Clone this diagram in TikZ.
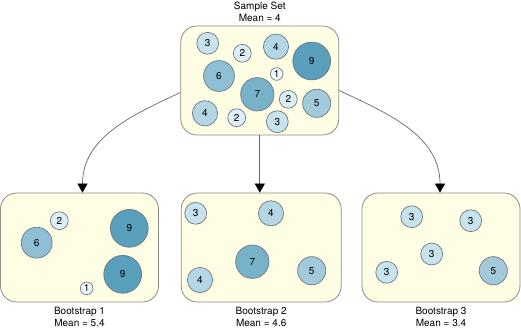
\documentclass[tikz,border=0pt]{standalone}
\usepackage{fontspec}
\setmainfont{TeX Gyre Heros}
\usetikzlibrary{arrows.meta,positioning}

\definecolor{poolfill}{HTML}{FFFDE3}
\definecolor{pooldraw}{HTML}{8C8C84}
\definecolor{balldraw}{HTML}{6A7A84}
\definecolor{ball1}{HTML}{F2F9FC}
\definecolor{ball2}{HTML}{DDEFF6}
\definecolor{ball3}{HTML}{C8E2EE}
\definecolor{ball4}{HTML}{B5D6E5}
\definecolor{ball5}{HTML}{A2CADB}
\definecolor{ball6}{HTML}{8EBFD5}
\definecolor{ball7}{HTML}{78B2C8}
\definecolor{ball9}{HTML}{5A9FBB}

\tikzset{
  pool/.style={draw=pooldraw, fill=poolfill, line width=0.8pt, rounded corners=16pt,
    minimum width=158pt, minimum height=109pt, inner sep=0pt},
  ball/.style={circle, draw=balldraw, line width=0.7pt, inner sep=0pt,
    font=\fontsize{10}{12}\selectfont},
  caption/.style={align=center, inner sep=0pt, font=\fontsize{10}{11.7}\selectfont},
  resample/.style={draw=black!60, line width=0.7pt,
    -{Triangle[width=10pt,length=9pt,color=black]}}
}

\begin{document}
\begin{tikzpicture}[x=1pt, y=-1pt]
    \useasboundingbox (0,0) rectangle (521,333);

    % sample set and bootstrap samples
    \node[pool] (sample) at (259.8,80.5) {};
    \node[pool] (boot1) at (79.5,247.5) {};
    \node[pool, minimum width=160pt] (boot2) at (261.2,247.5) {};
    \node[pool] (boot3) at (441,247.5) {};

    % captions
    \node[caption, above=4pt of sample] (capS) {Sample Set\\Mean = 4};
    \node[caption, below=5pt of boot1] (cap1) {Bootstrap 1\\Mean = 5.4};
    \node[caption, below=5pt of boot2] (cap2) {Bootstrap 2\\Mean = 4.6};
    \node[caption, below=5pt of boot3] (cap3) {Bootstrap 3\\Mean = 3.4};

    % balls: size and shade follow the value
    \foreach \x/\y/\v [count=\i] in {
        207.7/43.3/3, 242.3/53.3/2, 276/46.7/4, 311.7/61/9,
        219/76/6, 276.7/74/1, 257.3/94.3/7, 288.3/99.3/2,
        316.7/103.3/5, 205/113.3/4, 236.7/117.7/2, 277.3/121.7/3%
    } {
        \pgfmathsetmacro\d{12.6*sqrt(\v)}
        \node[ball, fill=ball\v, minimum size=\d pt] (s\i) at (\x,\y) {\v};
    }
    \foreach \x/\y/\v [count=\i] in {
        59.3/220.7/2, 36.7/242.7/6, 129.3/228.3/9,
        122.7/274.3/9, 86.7/288.3/1%
    } {
        \pgfmathsetmacro\d{12.6*sqrt(\v)}
        \node[ball, fill=ball\v, minimum size=\d pt] (a\i) at (\x,\y) {\v};
    }
    \foreach \x/\y/\v [count=\i] in {
        195.7/213.3/3, 271/213.3/4, 252.3/261.7/7,
        200/280/4, 311.7/270.7/5%
    } {
        \pgfmathsetmacro\d{12.6*sqrt(\v)}
        \node[ball, fill=ball\v, minimum size=\d pt] (b\i) at (\x,\y) {\v};
    }
    \foreach \x/\y/\v [count=\i] in {
        411.7/216.7/3, 470.7/220.7/3, 431.7/254/3,
        386.7/272.3/3, 493.3/270.7/5%
    } {
        \pgfmathsetmacro\d{12.6*sqrt(\v)}
        \node[ball, fill=ball\v, minimum size=\d pt] (c\i) at (\x,\y) {\v};
    }

    % resampling arrows
    \draw[resample] ([yshift=-12pt]sample.west) to[out=205, in=90] ([xshift=3pt]boot1.north);
    \draw[resample] (sample.south) -- (sample.south |- boot2.north);
    \draw[resample] ([yshift=-10pt]sample.east) to[out=-25, in=90] ([xshift=-1pt]boot3.north);

\end{tikzpicture}
\end{document}
